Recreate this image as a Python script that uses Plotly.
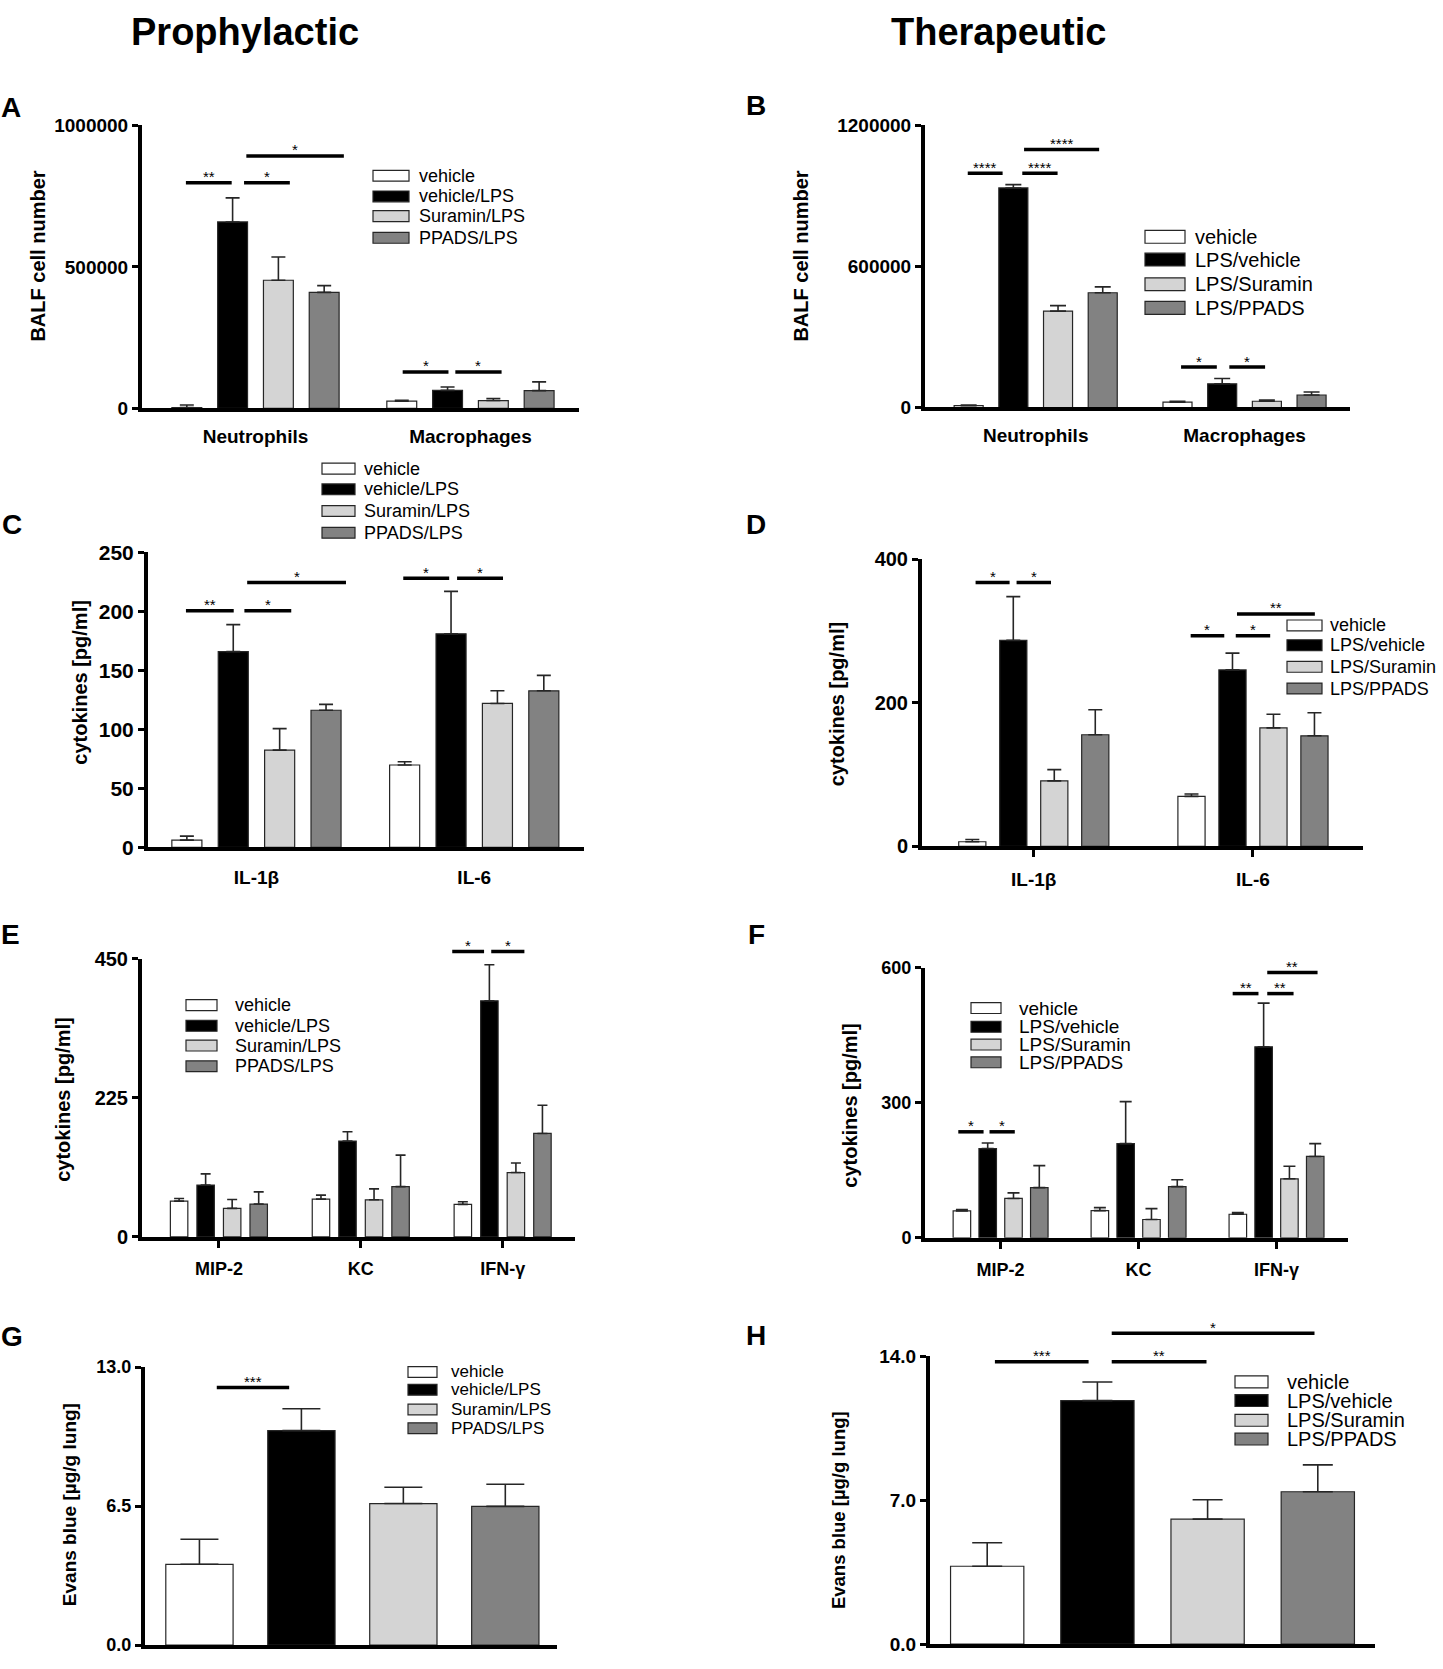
import plotly.graph_objects as go

W, H = 1443, 1669

# ---------------- data ----------------
pro_groups = ["vehicle", "vehicle/LPS", "Suramin/LPS", "PPADS/LPS"]
ther_groups = ["vehicle", "LPS/vehicle", "LPS/Suramin", "LPS/PPADS"]
bar_colors = ["#ffffff", "#000000", "#d4d4d4", "#828282"]

cell_cats = ["Neutrophils", "Macrophages"]
il_cats = ["IL-1β", "IL-6"]
chem_cats = ["MIP-2", "KC", "IFN-γ"]

# rows = groups (vehicle, LPS, Suramin, PPADS); columns = categories
A_mean = [[3000, 25600], [659000, 64000], [453000, 28000], [410000, 63000]]
A_sem = [[9000, 3400], [85000, 11600], [82000, 7000], [24000, 31000]]
B_mean = [[8000, 22400], [934000, 100700], [410000, 26600], [488000, 53000]]
B_sem = [[2500, 4200], [14000, 22300], [23500, 5400], [25000, 13000]]
C_mean = [[6.1, 69.8], [165.9, 181.0], [82.4, 122.0], [116.2, 132.7]]
C_sem = [[3.4, 2.8], [22.9, 36.0], [18.2, 10.7], [5.0, 13.1]]
D_mean = [[6.4, 69.7], [287.0, 245.9], [91.3, 165.1], [155.5, 154.1]]
D_sem = [[3.2, 3.2], [61.0, 23.4], [15.6, 18.9], [34.9, 32.1]]
E_mean = [[57.9, 61.1, 52.6], [83.9, 155.1, 382.0], [46.2, 60.0, 104.1], [53.1, 81.3, 167.4]]
E_sem = [[4.3, 6.4, 4.2], [18.1, 14.9, 58.4], [14.4, 17.6, 15.4], [19.7, 51.0, 45.6]]
F_mean = [[59.8, 60.5, 52.5], [198.3, 209.2, 424.3], [87.5, 40.8, 131.2], [111.5, 113.7, 180.8]]
F_sem = [[2.9, 6.6, 3.6], [12.4, 93.4, 97.0], [12.4, 24.1, 27.7], [48.9, 15.3, 28.4]]
G_mean = [3.78, 10.03, 6.62, 6.49]
G_sem = [1.17, 1.02, 0.76, 1.03]
H_mean = [3.79, 11.84, 6.08, 7.41]
H_sem = [1.14, 0.91, 0.94, 1.31]

# significance brackets: (category, from bar slot, to bar slot, height, label)
A_sig = [(0, -0.02, 0.98, 797000, "**"), (0, 1.25, 2.25, 797000, "*"), (0, 1.30, 3.43, 892000, "*"),
         (1, 0.02, 1.02, 129000, "*"), (1, 1.17, 2.18, 129000, "*")]
B_sig = [(0, -0.02, 0.76, 997000, "****"), (0, 1.20, 1.99, 997000, "****"), (0, 1.24, 2.92, 1098000, "****"),
         (1, 0.08, 0.88, 172000, "*"), (1, 1.16, 1.96, 172000, "*")]
C_sig = [(0, -0.02, 1.01, 200.6, "**"), (0, 1.24, 2.25, 200.6, "*"), (0, 1.30, 3.43, 224.6, "*"),
         (1, -0.03, 0.96, 228.2, "*"), (1, 1.13, 2.12, 228.2, "*")]
D_sig = [(0, 0.08, 0.91, 367.9, "*"), (0, 1.08, 1.92, 367.9, "*"),
         (1, -0.02, 0.80, 293.6, "*"), (1, 1.08, 1.92, 293.6, "*"), (1, 1.11, 3.01, 324.0, "**")]
E_sig = [(2, -0.40, 0.80, 461.7, "*"), (2, 1.07, 2.32, 461.7, "*")]
F_sig = [(0, -0.14, 0.84, 235.5, "*"), (0, 1.07, 2.05, 235.5, "*"),
         (2, -0.20, 0.80, 542.4, "**"), (2, 1.14, 2.16, 542.4, "**"), (2, 1.14, 3.09, 589.0, "**")]
G_sig = [(None, 0.17, 0.88, 12.05, "***")]
H_sig = [(None, 0.07, 0.92, 13.73, "***"), (None, 1.13, 1.99, 13.73, "**"), (None, 1.13, 2.97, 15.12, "*")]

A_ticks = [0, 500000, 1000000]
B_ticks = [0, 600000, 1200000]
C_ticks = [0, 50, 100, 150, 200, 250]
D_ticks = [0, 200, 400]
E_ticks = [0, 225, 450]
F_ticks = [0, 300, 600]
G_ticks = [0.0, 6.5, 13.0]
H_ticks = [0.0, 7.0, 14.0]

# ---------------- layout helpers ----------------
FONT = "Liberation Sans, Arial, Helvetica, sans-serif"
EDGE = "#262626"


def px(x):
    return x / W


def py(y):
    return 1 - y / H


panels = [
    dict(name="A", mean=A_mean, sem=A_sem, cats=cell_cats, groups=pro_groups, sig=A_sig, ticks=A_ticks,
         box=(142, 579, 115, 402), xr=(-0.528, 1.505), pitch=0.213, barw=0.139, xticks=False, cap=7,
         tickfs=19, catfs=19, title="BALF cell number", tpos=(38, 248), tfs=20, fmt="d",
         letter=(11, 97), leg=dict(x0=373, x1=409, h=11, rows=[166, 187, 207, 229], tx=417, fs=18), stand=8),
    dict(name="B", mean=B_mean, sem=B_sem, cats=cell_cats, groups=ther_groups, sig=B_sig, ticks=B_ticks,
         box=(925, 1350, 115, 401), xr=(-0.53, 1.505), pitch=0.214, barw=0.139, xticks=False, cap=8,
         tickfs=19, catfs=19, title="BALF cell number", tpos=(801, 248), tfs=20, fmt="d",
         letter=(756, 95), leg=dict(x0=1145, x1=1185, h=13, rows=[228, 251, 276, 300], tx=1193, fs=20), stand=8),
    dict(name="C", mean=C_mean, sem=C_sem, cats=il_cats, groups=pro_groups, sig=C_sig, ticks=C_ticks,
         box=(148, 584, 548, 847), xr=(-0.498, 1.504), pitch=0.213, barw=0.138, xticks=False, cap=7,
         tickfs=21, catfs=19, title="cytokines [pg/ml]", tpos=(80, 680), tfs=20, fmt="d",
         letter=(12, 520), leg=dict(x0=322, x1=355, h=11, rows=[463, 484, 506, 528], tx=362, fs=18), stand=10),
    dict(name="D", mean=D_mean, sem=D_sem, cats=il_cats, groups=ther_groups, sig=D_sig, ticks=D_ticks,
         box=(922, 1363, 555, 846), xr=(-0.51, 1.502), pitch=0.187, barw=0.124, xticks=True, cap=7,
         tickfs=20, catfs=19, title="cytokines [pg/ml]", tpos=(837, 702), tfs=20, fmt="d",
         letter=(756, 520), leg=dict(x0=1287, x1=1322, h=11, rows=[622, 642, 664, 686], tx=1328, fs=18), stand=6),
    dict(name="E", mean=E_mean, sem=E_sem, cats=chem_cats, groups=pro_groups, sig=E_sig, ticks=E_ticks,
         box=(142, 575, 960, 1242), xr=(-0.542, 2.51), pitch=0.187, barw=0.123, xticks=True, cap=5,
         tickfs=20, catfs=18, title="cytokines [pg/ml]", tpos=(63, 1103), tfs=20, fmt="d",
         letter=(10, 935), leg=dict(x0=186, x1=217, h=11, rows=[1007, 1028, 1048, 1069], tx=233, fs=18), stand=6),
    dict(name="F", mean=F_mean, sem=F_sem, cats=chem_cats, groups=ther_groups, sig=F_sig, ticks=F_ticks,
         box=(925, 1348, 969, 1243), xr=(-0.548, 2.518), pitch=0.187, barw=0.127, xticks=True, cap=6,
         tickfs=18, catfs=18, title="cytokines [pg/ml]", tpos=(850, 1109), tfs=20, fmt="d",
         letter=(756, 935), leg=dict(x0=971, x1=1001, h=11, rows=[1010, 1029, 1047, 1065], tx=1017, fs=19), stand=6),
    dict(name="G", mean=G_mean, sem=G_sem, cats=None, groups=pro_groups, sig=G_sig, ticks=G_ticks,
         box=(145, 557, 1374, 1656), xr=(-0.534, 3.507), pitch=1.0, barw=0.66, xticks=False, cap=19,
         tickfs=18, catfs=18, title="Evans blue [µg/g lung]", tpos=(69, 1514), tfs=19, fmt=".1f",
         letter=(12, 1343), leg=dict(x0=408, x1=437, h=11, rows=[1379, 1397, 1417, 1436], tx=449, fs=17), stand=6),
    dict(name="H", mean=H_mean, sem=H_sem, cats=None, groups=ther_groups, sig=H_sig, ticks=H_ticks,
         box=(930, 1375, 1363, 1655), xr=(-0.519, 3.519), pitch=1.0, barw=0.665, xticks=False, cap=15,
         tickfs=19, catfs=18, title="Evans blue [µg/g lung]", tpos=(838, 1519), tfs=18.5, fmt=".1f",
         letter=(756, 1342), leg=dict(x0=1235, x1=1268, h=12, rows=[1389, 1408, 1428, 1447], tx=1285, fs=20), stand=6),
]

fig = go.Figure()
shapes = []
annotations = []
layout_axes = {}

for k, P in enumerate(panels):
    n = k + 1
    xid = "x" if n == 1 else f"x{n}"
    yid = "y" if n == 1 else f"y{n}"
    xl = "xaxis" if n == 1 else f"xaxis{n}"
    yl = "yaxis" if n == 1 else f"yaxis{n}"
    x0, x1, ytop, ybot = P["box"]
    ymax = P["ticks"][-1]

    err_style = dict(type="data", symmetric=False, color=EDGE, thickness=1.6, width=P["cap"])
    if P["cats"] is None:
        nb = len(P["mean"])
        fig.add_trace(go.Bar(
            x=list(range(nb)), y=P["mean"], width=P["barw"],
            marker=dict(color=bar_colors, line=dict(color=EDGE, width=1.2)),
            error_y=dict(array=P["sem"], arrayminus=[0] * nb, **err_style),
            xaxis=xid, yaxis=yid, showlegend=False, hoverinfo="skip"))
        tickvals, ticktext = [], []
    else:
        nc = len(P["cats"])
        for g in range(4):
            fig.add_trace(go.Bar(
                x=list(range(nc)), y=P["mean"][g], width=P["barw"],
                offset=(g - 1.5) * P["pitch"] - P["barw"] / 2,
                marker=dict(color=bar_colors[g], line=dict(color=EDGE, width=1.2)),
                error_y=dict(array=P["sem"][g], arrayminus=[0] * nc, **err_style),
                name=P["groups"][g], xaxis=xid, yaxis=yid, showlegend=False, hoverinfo="skip"))
        tickvals, ticktext = list(range(nc)), P["cats"]

    layout_axes[xl] = dict(
        domain=[px(x0), px(x1)], range=list(P["xr"]), anchor=yid,
        showline=True, linewidth=4, linecolor="black", showgrid=False, zeroline=False,
        tickvals=tickvals, ticktext=ticktext,
        ticks="outside" if P["xticks"] else "", ticklen=7, tickwidth=3, tickcolor="black",
        tickfont=dict(family=FONT, size=P["catfs"], color="black", weight="bold"),
        ticklabelstandoff=P["stand"], fixedrange=True)
    layout_axes[yl] = dict(
        domain=[py(ybot), py(ytop)], range=[0, ymax], anchor=xid,
        showline=True, linewidth=4, linecolor="black", showgrid=False, zeroline=False,
        tickvals=P["ticks"], tickformat=P["fmt"],
        ticks="outside", ticklen=6, tickwidth=3, tickcolor="black",
        tickfont=dict(family=FONT, size=P["tickfs"], color="black", weight="bold"),
        fixedrange=True)

    # significance brackets (in axis-domain fractions so they may sit above the axis top)
    xr0, xr1 = P["xr"]
    for cat, s0, s1, yv, lab in P["sig"]:
        if cat is None:
            xa_, xb_ = s0, s1
        else:
            xa_ = cat + (s0 - 1.5) * P["pitch"]
            xb_ = cat + (s1 - 1.5) * P["pitch"]
        fa = (xa_ - xr0) / (xr1 - xr0)
        fb = (xb_ - xr0) / (xr1 - xr0)
        fy = yv / ymax
        shapes.append(dict(type="line", xref=f"{xid} domain", yref=f"{yid} domain",
                           x0=fa, x1=fb, y0=fy, y1=fy, line=dict(color="black", width=3.5)))
        annotations.append(dict(xref=f"{xid} domain", yref=f"{yid} domain", x=(fa + fb) / 2, y=fy,
                                text=lab, showarrow=False, xanchor="center", yanchor="middle", yshift=6,
                                font=dict(family=FONT, size=15, color="black")))

    # custom legend
    L = P["leg"]
    for g in range(4):
        yc = L["rows"][g]
        shapes.append(dict(type="rect", xref="paper", yref="paper",
                           x0=px(L["x0"]), x1=px(L["x1"]), y0=py(yc + L["h"] / 2), y1=py(yc - L["h"] / 2),
                           fillcolor=bar_colors[g], line=dict(color=EDGE, width=1.2)))
        annotations.append(dict(xref="paper", yref="paper", x=px(L["tx"]), y=py(yc), text=P["groups"][g],
                                showarrow=False, xanchor="left", yanchor="middle",
                                font=dict(family=FONT, size=L["fs"], color="black")))

    # axis title
    annotations.append(dict(xref="paper", yref="paper", x=px(P["tpos"][0]), y=py(P["tpos"][1]),
                            text=f"<b>{P['title']}</b>", textangle=-90, showarrow=False,
                            xanchor="center", yanchor="middle",
                            font=dict(family=FONT, size=P["tfs"], color="black")))
    # panel letter
    annotations.append(dict(xref="paper", yref="paper", x=px(P["letter"][0]), y=py(P["letter"][1]),
                            text=f"<b>{P['name']}</b>", showarrow=False, xanchor="center", yanchor="middle",
                            font=dict(family=FONT, size=28, color="black")))

# column titles
annotations.append(dict(xref="paper", yref="paper", x=px(245), y=py(20), text="<b>Prophylactic</b>",
                        showarrow=False, xanchor="center", yanchor="middle",
                        font=dict(family=FONT, size=38, color="black")))
annotations.append(dict(xref="paper", yref="paper", x=px(998), y=py(20), text="<b>Therapeutic</b>",
                        showarrow=False, xanchor="center", yanchor="middle",
                        font=dict(family=FONT, size=38, color="black")))

fig.update_layout(
    width=W, height=H, margin=dict(l=0, r=0, t=0, b=0),
    paper_bgcolor="white", plot_bgcolor="white",
    barmode="overlay", showlegend=False, hovermode=False,
    shapes=shapes, annotations=annotations,
    font=dict(family=FONT, color="black"),
    **layout_axes,
)

fig.write_html("out.html", config={"displayModeBar": False, "staticPlot": True},
               post_script="document.body.style.margin='0';document.body.style.overflow='hidden';")
